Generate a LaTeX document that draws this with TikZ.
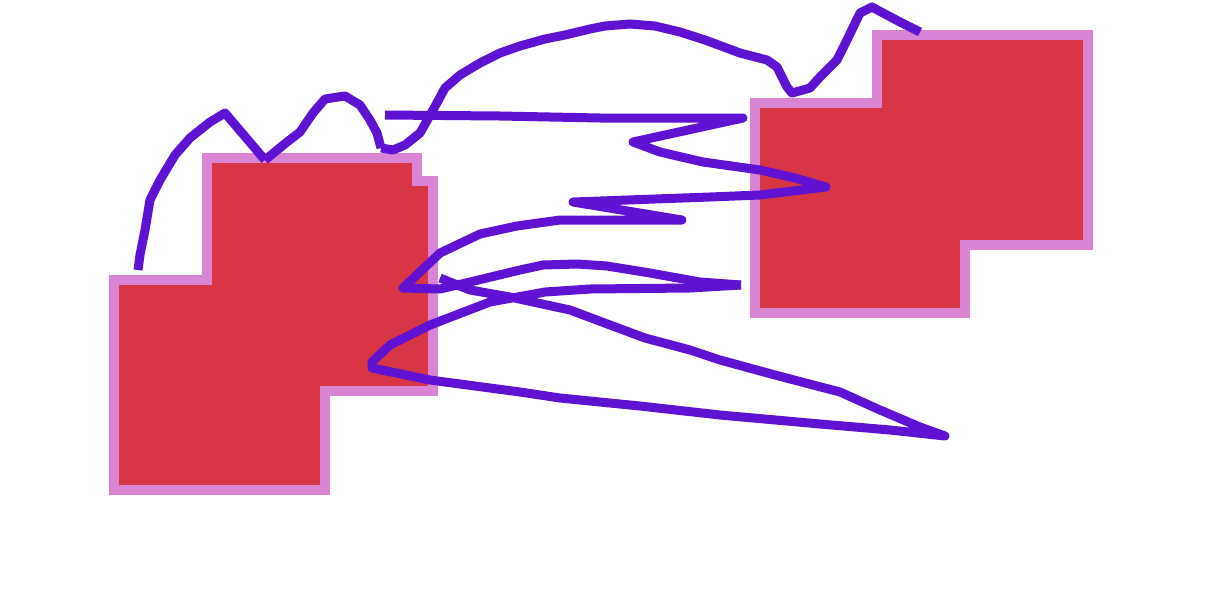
\documentclass[tikz,border=0pt]{standalone}
\definecolor{shapered}{HTML}{D93645}
\definecolor{shapeedge}{HTML}{DA84D6}
\definecolor{wire}{HTML}{5F12D2}
\begin{document}
\begin{tikzpicture}[x=1pt,y=-1pt,
  blob/.style={fill=shapered,draw=shapeedge,line width=10pt,line join=miter},
  wirepath/.style={draw=wire,line width=9pt,line join=round,line cap=butt}]
\useasboundingbox (0,0) rectangle (1229,603);
% shapes
\draw[blob] (114,280) -- (207,280) -- (207,158) -- (417,158) -- (417,181) -- (433,181)
  -- (433,391) -- (325,391) -- (325,490) -- (114,490) -- cycle;
\draw[blob] (755,103) -- (877,103) -- (877,35) -- (1087.5,35) -- (1087.5,245)
  -- (965,245) -- (965,313) -- (755,313) -- cycle;
% named anchor points
\coordinate (a1) at (138,270);
\coordinate (a2) at (265,160);
\coordinate (a3) at (381,148);
\coordinate (b1) at (920,32);
\coordinate (c1) at (385,115);
\coordinate (c2) at (741,285);
\coordinate (d1) at (440,278);
% left wiggle
\draw[wirepath] (a1) -- (140,255) -- (145,230) -- (150,200) -- (160,180) -- (175,155)
  -- (190,138) -- (210,122) -- (225,113) -- (a2);
\draw[wirepath] (a2) -- (287,142) -- (300,132) -- (313,113) -- (325,99) -- (345,96)
  -- (360,105) -- (370,120) -- (377,133) -- (a3);
% top arc
\draw[wirepath] (a3) -- (393,150) -- (405,145) -- (420,133) -- (433,110) -- (445,88)
  -- (460,75) -- (480,63) -- (500,53) -- (520,46) -- (545,39) -- (565,35) -- (590,29)
  -- (605,26) -- (630,24) -- (655,26) -- (680,32) -- (705,40) -- (740,53) -- (767,60)
  -- (777,67) -- (787,87) -- (792,93) -- (810,88) -- (820,77) -- (837,60) -- (847,40)
  -- (860,13) -- (872,7) -- (883,13) -- (900,22) -- (b1);
% zigzag
\draw[wirepath] (c1) -- (500,116) -- (600,118) -- (743,118) -- (633,142) -- (660,152)
  -- (703,162) -- (760,170) -- (795,178) -- (826,187) -- (760,195) -- (710,197)
  -- (573,202) -- (682,220) -- (600,220) -- (560,220) -- (517,226) -- (480,234)
  -- (440,253) -- (403,288) -- (440,289) -- (470,282) -- (520,270) -- (543,265)
  -- (577,264) -- (607,266) -- (650,273) -- (700,282) -- (c2);
% long loop
\draw[wirepath] (d1) -- (470,290) -- (510,297) -- (570,310) -- (610,325) -- (645,338)
  -- (690,350) -- (720,360) -- (775,375) -- (840,392) -- (880,410) -- (920,427)
  -- (945,436) -- (890,430) -- (820,424) -- (720,415) -- (640,406) -- (560,398)
  -- (520,392) -- (430,380) -- (372,368) -- (372,362) -- (390,345) -- (430,325)
  -- (490,302) -- (545,292) -- (590,289) -- (690,288) -- (c2);
\end{tikzpicture}
\end{document}
